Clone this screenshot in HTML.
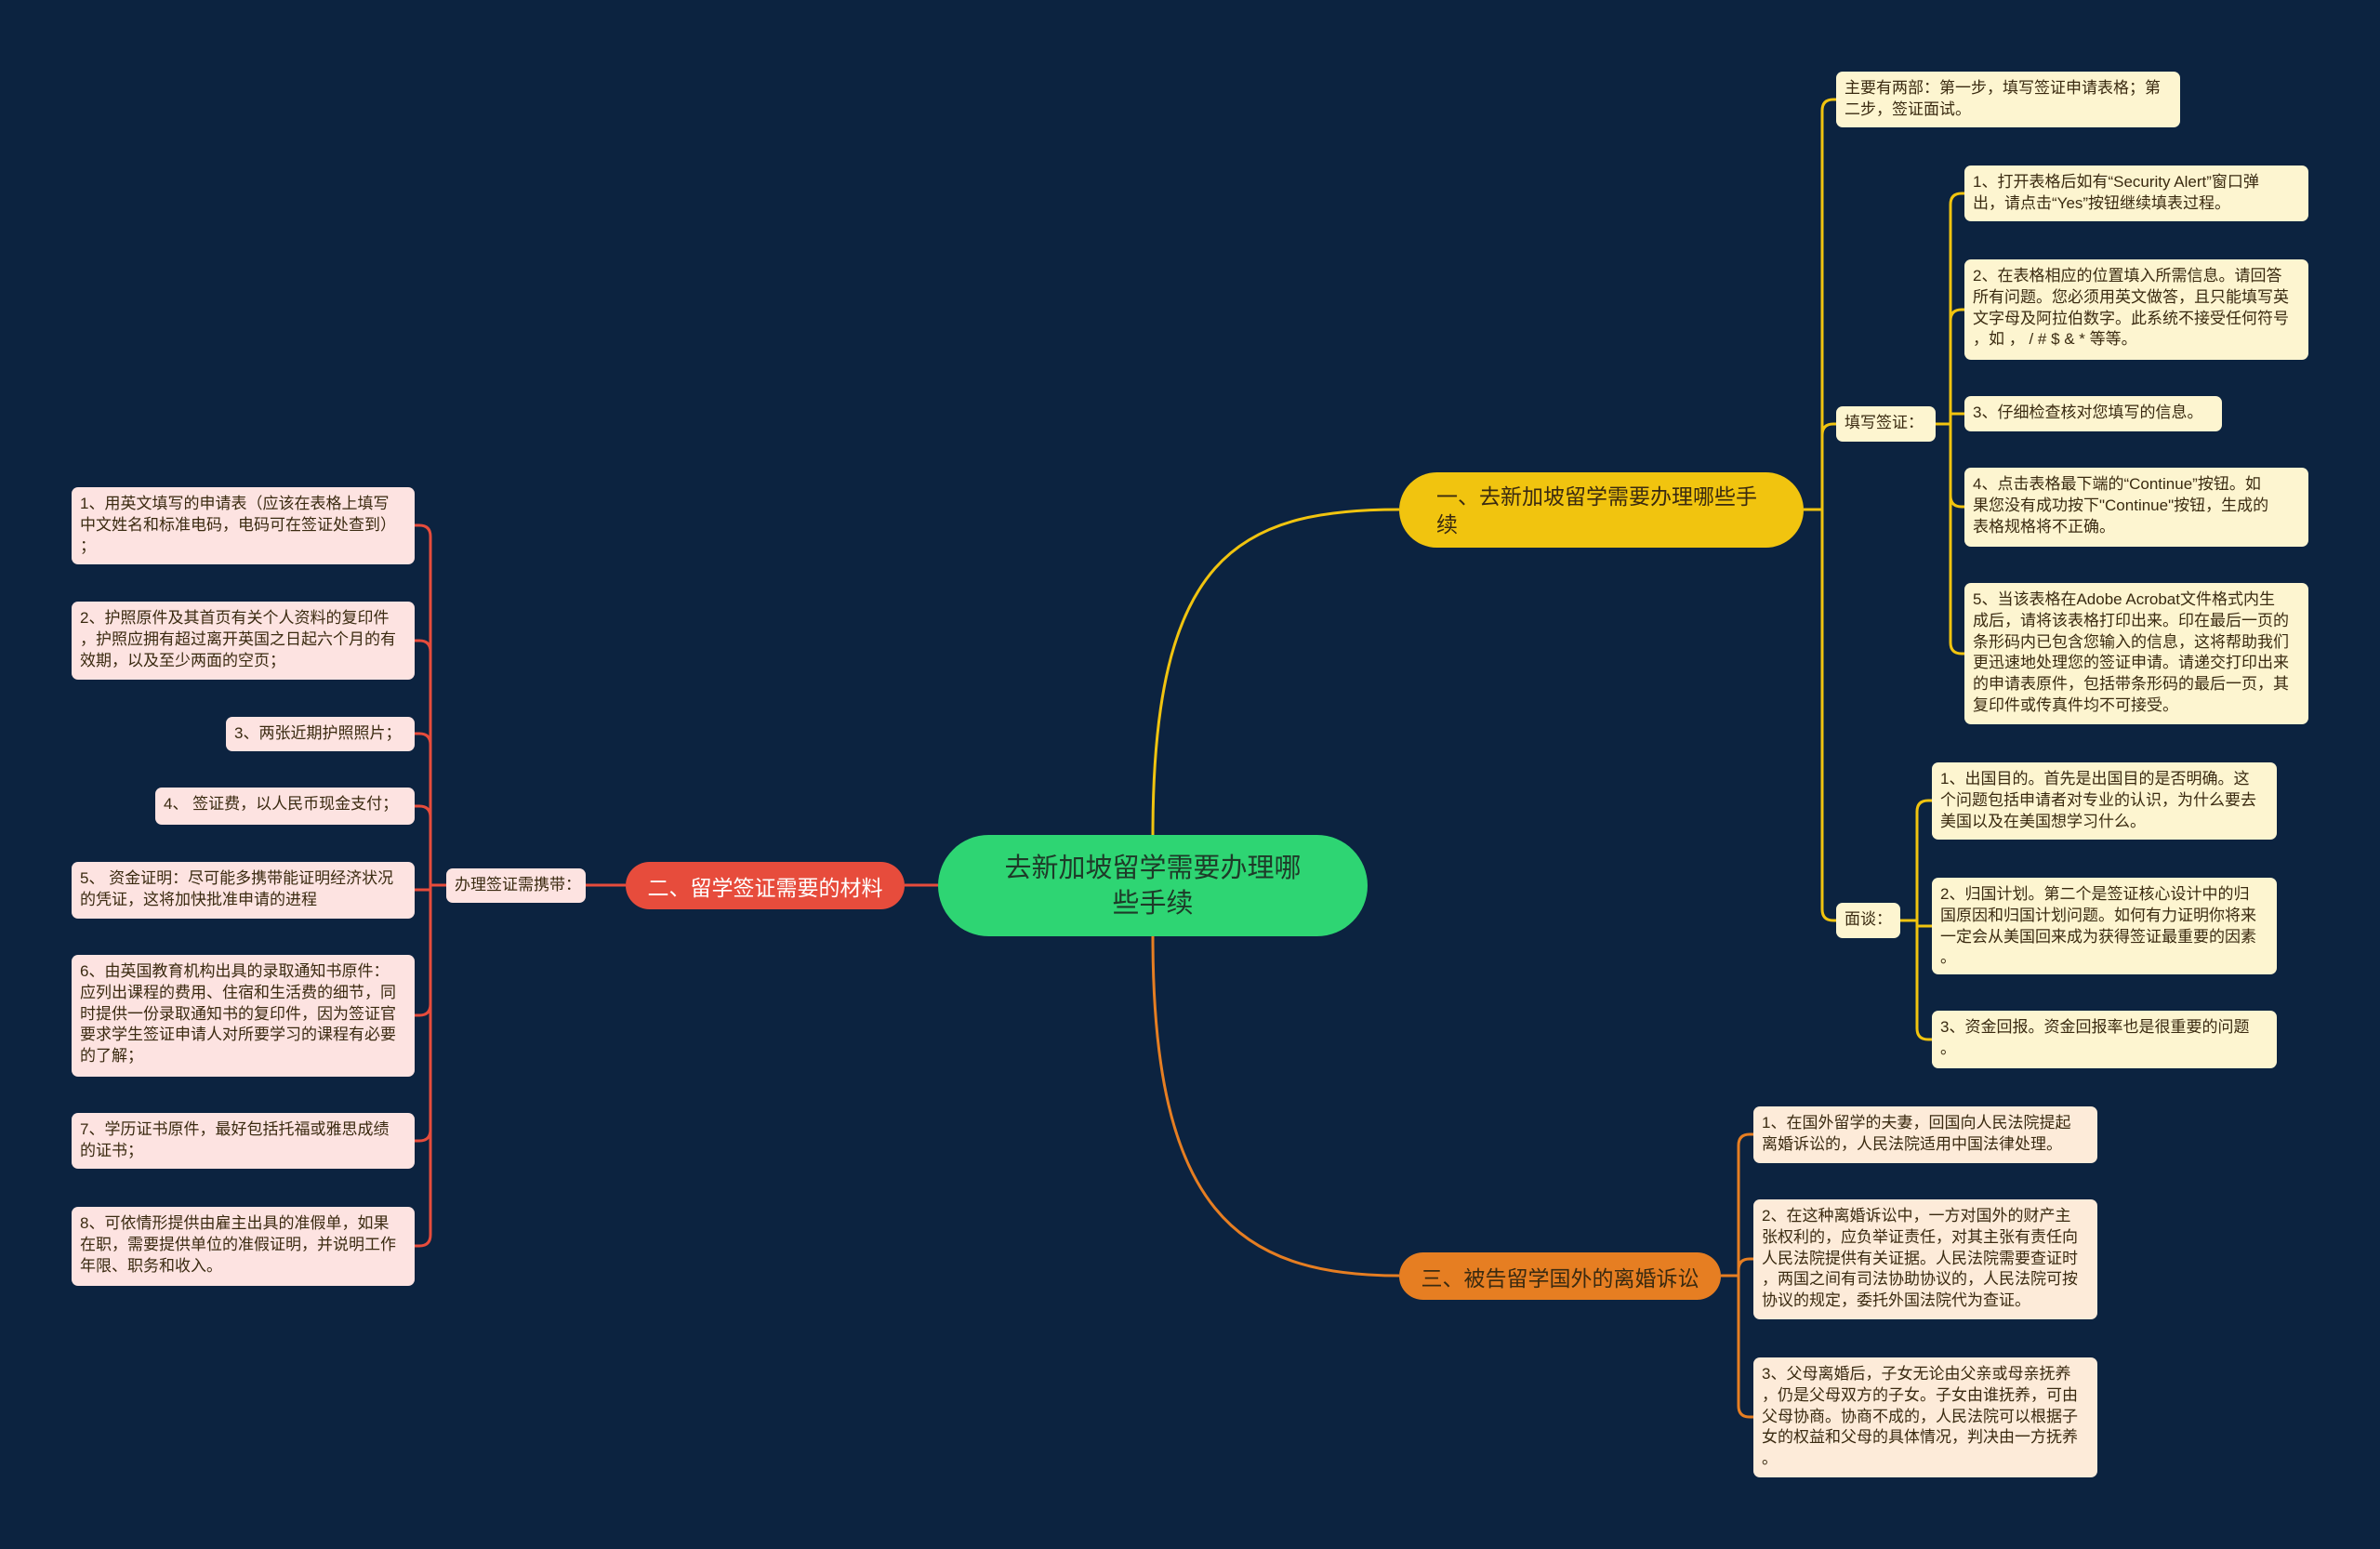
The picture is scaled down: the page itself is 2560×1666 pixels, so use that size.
<!DOCTYPE html>
<html><head><meta charset="utf-8">
<style>
html,body{margin:0;padding:0;}
body{width:2560px;height:1666px;background:#0c2340;position:relative;overflow:hidden;font-family:"Liberation Sans","Noto Sans CJK SC",sans-serif;}
.n{position:absolute;box-sizing:border-box;border-radius:7px;font-size:17px;line-height:22.8px;color:#3a2a10;padding:7px 9px;white-space:nowrap;}
.y{background:#fdf5d0;}
.p{background:#fde3e1;}
.o{background:#fdebd9;}
.pill{position:absolute;box-sizing:border-box;display:flex;align-items:center;}
svg{position:absolute;left:0;top:0;}
</style></head><body>
<svg width="2560" height="1666" fill="none" stroke-width="3">
<g stroke="#f1c40f">
<path d="M1240 898 C1240 600 1330 548 1505 548"/>
<path d="M1940 548 H1960 V119 Q1960 107 1972 107 H1975"/>
<path d="M1940 548 H1960 V468 Q1960 456 1972 456 H1975"/>
<path d="M1940 548 H1960 V978 Q1960 990 1972 990 H1975"/>
<path d="M2082 456 H2098 V220 Q2098 208 2110 208 H2113"/>
<path d="M2082 456 H2098 V345 Q2098 333 2110 333 H2113"/>
<path d="M2082 456 H2098 V445 H2113"/>
<path d="M2082 456 H2098 V533 Q2098 545 2110 545 H2113"/>
<path d="M2082 456 H2098 V691 Q2098 703 2110 703 H2113"/>
<path d="M2044 990 H2062 V873 Q2062 861 2074 861 H2078"/>
<path d="M2044 990 H2062 V996 H2078"/>
<path d="M2044 990 H2062 V1106 Q2062 1118 2074 1118 H2078"/>
</g>
<g stroke="#e67e22">
<path d="M1240 1007 C1240 1300 1330 1372 1505 1372"/>
<path d="M1851 1372 H1870 V1232 Q1870 1220 1882 1220 H1886"/>
<path d="M1851 1372 H1870 V1366 Q1870 1354 1882 1354 H1886"/>
<path d="M1851 1372 H1870 V1512 Q1870 1524 1882 1524 H1886"/>
</g>
<g stroke="#e74c3c">
<path d="M1009 952 H973"/>
<path d="M673 952 H630"/>
<path d="M480 952 H463 V577 Q463 565 451 565 H446"/>
<path d="M480 952 H463 V701 Q463 689 451 689 H446"/>
<path d="M480 952 H463 V801 Q463 789 451 789 H446"/>
<path d="M480 952 H463 V879 Q463 867 451 867 H446"/>
<path d="M480 952 H463 V957 H446"/>
<path d="M480 952 H463 V1080 Q463 1092 451 1092 H446"/>
<path d="M480 952 H463 V1215 Q463 1227 451 1227 H446"/>
<path d="M480 952 H463 V1328 Q463 1340 451 1340 H446"/>
</g>
</svg>

<div class="pill" style="left:1009px;top:898px;width:462px;height:109px;border-radius:55px;background:#2ed573;justify-content:center;text-align:center;font-size:29px;line-height:38px;color:#1e3a28;">去新加坡留学需要办理哪<br>些手续</div>
<div class="pill" style="left:1505px;top:508px;width:435px;height:81px;border-radius:41px;background:#f1c40f;padding-left:40px;font-size:23px;line-height:30px;color:#3a2a10;">一、去新加坡留学需要办理哪些手<br>续</div>
<div class="pill" style="left:673px;top:927px;width:300px;height:51px;border-radius:26px;background:#e74c3c;justify-content:center;font-size:23px;color:#fff;">二、留学签证需要的材料</div>
<div class="pill" style="left:1505px;top:1347px;width:346px;height:51px;border-radius:26px;background:#e67e22;justify-content:center;font-size:23px;color:#3a2a10;">三、被告留学国外的离婚诉讼</div>

<div class="n y" style="left:1975px;top:77px;width:370px;height:60px;">主要有两部：第一步，填写签证申请表格；第<br>二步，签证面试。</div>
<div class="n y" style="left:1975px;top:437px;width:107px;height:38px;">填写签证：</div>
<div class="n y" style="left:1975px;top:971px;width:69px;height:38px;">面谈：</div>

<div class="n y" style="left:2113px;top:178px;width:370px;height:60px;">1、打开表格后如有“Security Alert”窗口弹<br>出，请点击“Yes”按钮继续填表过程。</div>
<div class="n y" style="left:2113px;top:279px;width:370px;height:108px;">2、在表格相应的位置填入所需信息。请回答<br>所有问题。您必须用英文做答，且只能填写英<br>文字母及阿拉伯数字。此系统不接受任何符号<br>，如 ， / # $ &amp; * 等等。</div>
<div class="n y" style="left:2113px;top:426px;width:277px;height:38px;">3、仔细检查核对您填写的信息。</div>
<div class="n y" style="left:2113px;top:503px;width:370px;height:85px;">4、点击表格最下端的“Continue”按钮。如<br>果您没有成功按下"Continue"按钮，生成的<br>表格规格将不正确。</div>
<div class="n y" style="left:2113px;top:627px;width:370px;height:152px;">5、当该表格在Adobe Acrobat文件格式内生<br>成后，请将该表格打印出来。印在最后一页的<br>条形码内已包含您输入的信息，这将帮助我们<br>更迅速地处理您的签证申请。请递交打印出来<br>的申请表原件，包括带条形码的最后一页，其<br>复印件或传真件均不可接受。</div>

<div class="n y" style="left:2078px;top:820px;width:371px;height:83px;">1、出国目的。首先是出国目的是否明确。这<br>个问题包括申请者对专业的认识，为什么要去<br>美国以及在美国想学习什么。</div>
<div class="n y" style="left:2078px;top:944px;width:371px;height:104px;">2、归国计划。第二个是签证核心设计中的归<br>国原因和归国计划问题。如何有力证明你将来<br>一定会从美国回来成为获得签证最重要的因素<br>。</div>
<div class="n y" style="left:2078px;top:1087px;width:371px;height:62px;">3、资金回报。资金回报率也是很重要的问题<br>。</div>

<div class="n o" style="left:1886px;top:1190px;width:370px;height:61px;">1、在国外留学的夫妻，回国向人民法院提起<br>离婚诉讼的，人民法院适用中国法律处理。</div>
<div class="n o" style="left:1886px;top:1290px;width:370px;height:129px;">2、在这种离婚诉讼中，一方对国外的财产主<br>张权利的，应负举证责任，对其主张有责任向<br>人民法院提供有关证据。人民法院需要查证时<br>，两国之间有司法协助协议的，人民法院可按<br>协议的规定，委托外国法院代为查证。</div>
<div class="n o" style="left:1886px;top:1460px;width:370px;height:129px;">3、父母离婚后，子女无论由父亲或母亲抚养<br>，仍是父母双方的子女。子女由谁抚养，可由<br>父母协商。协商不成的，人民法院可以根据子<br>女的权益和父母的具体情况，判决由一方抚养<br>。</div>

<div class="n p" style="left:480px;top:934px;width:150px;height:37px;">办理签证需携带：</div>
<div class="n p" style="left:77px;top:524px;width:369px;height:83px;">1、用英文填写的申请表（应该在表格上填写<br>中文姓名和标准电码，电码可在签证处查到）<br>；</div>
<div class="n p" style="left:77px;top:647px;width:369px;height:84px;">2、护照原件及其首页有关个人资料的复印件<br>，护照应拥有超过离开英国之日起六个月的有<br>效期，以及至少两面的空页；</div>
<div class="n p" style="left:243px;top:771px;width:203px;height:37px;">3、两张近期护照照片；</div>
<div class="n p" style="left:167px;top:847px;width:279px;height:40px;">4、 签证费，以人民币现金支付；</div>
<div class="n p" style="left:77px;top:927px;width:369px;height:61px;">5、 资金证明：尽可能多携带能证明经济状况<br>的凭证，这将加快批准申请的进程</div>
<div class="n p" style="left:77px;top:1027px;width:369px;height:131px;">6、由英国教育机构出具的录取通知书原件：<br>应列出课程的费用、住宿和生活费的细节，同<br>时提供一份录取通知书的复印件，因为签证官<br>要求学生签证申请人对所要学习的课程有必要<br>的了解；</div>
<div class="n p" style="left:77px;top:1197px;width:369px;height:60px;">7、学历证书原件，最好包括托福或雅思成绩<br>的证书；</div>
<div class="n p" style="left:77px;top:1298px;width:369px;height:85px;">8、可依情形提供由雇主出具的准假单，如果<br>在职，需要提供单位的准假证明，并说明工作<br>年限、职务和收入。</div>
</body></html>
